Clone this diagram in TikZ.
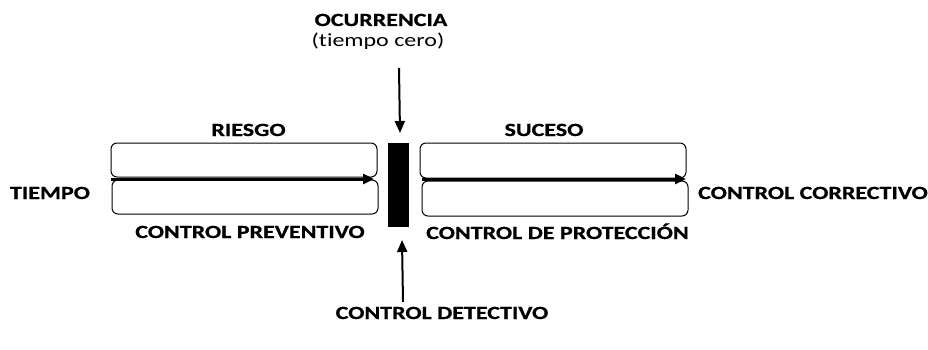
\documentclass[tikz,border=0pt]{standalone}
\usepackage{fontspec}
\setmainfont[FakeStretch=1.29,Ligatures=NoCommon,BoldFeatures={FakeBold=0.8}]{Carlito}
\usetikzlibrary{arrows.meta}
\begin{document}
\begin{tikzpicture}[x=1pt,y=-1pt,
  lbl/.style={font=\bfseries\fontsize{18.6}{22}\selectfont, inner sep=0pt, anchor=base},
  plain/.style={font=\fontsize{18.6}{22}\selectfont, inner sep=0pt, anchor=base},
  rbox/.style={draw, rounded corners=6pt, line width=1pt},
  mainarrow/.style={line width=3pt, -{Triangle[length=11pt,width=10pt]}},
  vert/.style={line width=2pt, -{Triangle[length=12pt,width=10pt]}}]
\useasboundingbox (0,0) rectangle (928,350);
% left boxes
\draw[rbox] (111,143) rectangle (377,177);
\draw[rbox] (112,180) rectangle (378,214);
% right boxes
\draw[rbox] (420,143) rectangle (686,178);
\draw[rbox] (422,181) rectangle (688,216);
% bar
\fill (388,143) rectangle (409,227);
% main arrows
\coordinate (l1) at (111,179);
\coordinate (l2) at (374,179);
\coordinate (r1) at (422,179);
\coordinate (r2) at (686,179);
\draw[mainarrow] (l1) -- (l2);
\draw[mainarrow] (r1) -- (r2);
% labels
\node[lbl] (ocu) at (381,26) {OCURRENCIA};
\node[plain] (tc) at (378,47) {(tiempo cero)};
\node[lbl] (ries) at (248.5,136) {RIESGO};
\node[lbl] (suc) at (544,136) {SUCESO};
\node[lbl] (tiem) at (50,199) {TIEMPO};
\node[lbl] (corr) at (813,199) {CONTROL CORRECTIVO};
\node[lbl] (prev) at (250,238) {CONTROL PREVENTIVO};
\node[lbl] (prot) at (557.5,239) {CONTROL DE PROTECCIÓN};
\node[lbl] (det) at (442,319) {CONTROL DETECTIVO};
% vertical arrows
\coordinate (t1) at (399,68);
\coordinate (t2) at (400,133);
\coordinate (d1) at (403,302);
\coordinate (d2) at (402,240);
\draw[vert] (t1) -- (t2);
\draw[vert] (d1) -- (d2);
\end{tikzpicture}
\end{document}
